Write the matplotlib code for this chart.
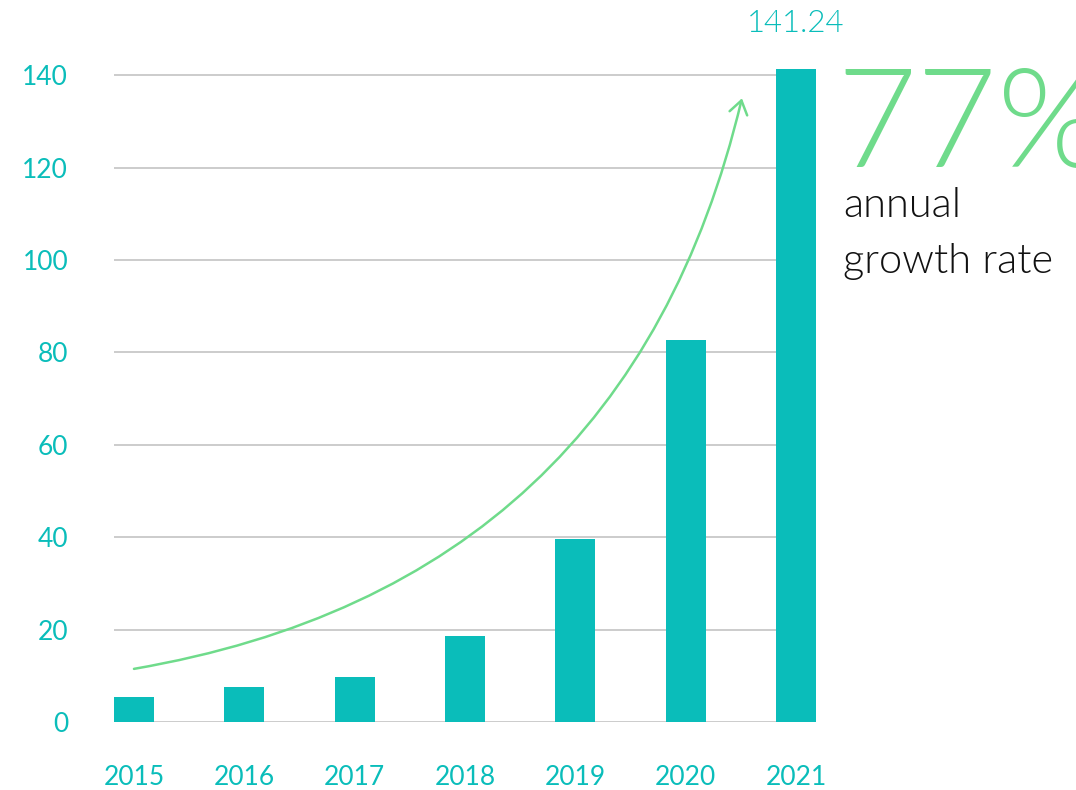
import matplotlib.pyplot as plt
from matplotlib.patches import FancyArrowPatch
from matplotlib import font_manager

years = ["2015", "2016", "2017", "2018", "2019", "2020", "2021"]
values = [5.4, 7.6, 9.7, 18.6, 39.6, 82.6, 141.24]
y_ticks = [0, 20, 40, 60, 80, 100, 120, 140]
growth_label = "77%"
growth_lines = ["annual", "growth rate"]

TEAL = "#0ABDBA"
GREEN = "#6FDB8B"
GRID = "#C8C8C8"

plt.rcParams["font.family"] = ["Lato", "DejaVu Sans"]


def light_font(families=("Lato", "Roboto", "Open Sans", "Noto Sans")):
    # pick an upright font close to weight 300
    for fam in families:
        cands = [f for f in font_manager.fontManager.ttflist
                 if f.name == fam and f.style == "normal"]
        if not cands:
            continue
        def w(f):
            try:
                return int(f.weight)
            except ValueError:
                return font_manager.weight_dict.get(f.weight, 400)
        best = min(cands, key=lambda f: (abs(w(f) - 300), -w(f)))
        return font_manager.FontProperties(fname=best.fname)
    return font_manager.FontProperties(family="DejaVu Sans")


LIGHT = light_font()

fig = plt.figure(figsize=(10.76, 7.9), dpi=100)
ax = fig.add_axes([114 / 1076, 68 / 790, 702 / 1076, 693 / 790])

x = list(range(len(years)))
ax.bar(x, values, width=0.363, color=TEAL, zorder=3, clip_on=False)

ax.set_xlim(-0.181, len(years) - 1 + 0.181)
ax.set_ylim(0, 150)
ax.set_yticks(y_ticks)
ax.set_xticks(x)
ax.set_xticklabels(years)
ax.yaxis.grid(True, color=GRID, linewidth=1.3, zorder=0)
ax.set_axisbelow(True)
for s in ax.spines.values():
    s.set_visible(False)
ax.tick_params(axis="both", length=0, labelsize=19, labelcolor=TEAL)
ax.tick_params(axis="y", pad=33)
ax.tick_params(axis="x", pad=31)

# value label on the last bar
ax.annotate(f"{values[-1]:.2f}", xy=(x[-1], values[-1]), xytext=(0, 33),
            textcoords="offset points", ha="center", va="center",
            fontproperties=LIGHT, fontsize=22.5, color=TEAL, annotation_clip=False)

# growth arrow
arrow = FancyArrowPatch((0, 11.5), (5.51, 135), connectionstyle="arc3,rad=0.33",
                        arrowstyle="->,head_length=0.95,head_width=0.65",
                        color=GREEN, linewidth=1.8, mutation_scale=10,
                        shrinkA=0, shrinkB=0, zorder=4)
ax.add_patch(arrow)

fig.text(836 / 1076, 623 / 790, growth_label, fontproperties=LIGHT, fontsize=100,
         color=GREEN, va="baseline", ha="left")
fig.text(843 / 1076, 573 / 790, growth_lines[0], fontproperties=LIGHT, fontsize=30,
         color="#111111", va="baseline", ha="left")
fig.text(843 / 1076, 517 / 790, growth_lines[1], fontproperties=LIGHT, fontsize=30,
         color="#111111", va="baseline", ha="left")

plt.savefig("out.png", dpi=100)
